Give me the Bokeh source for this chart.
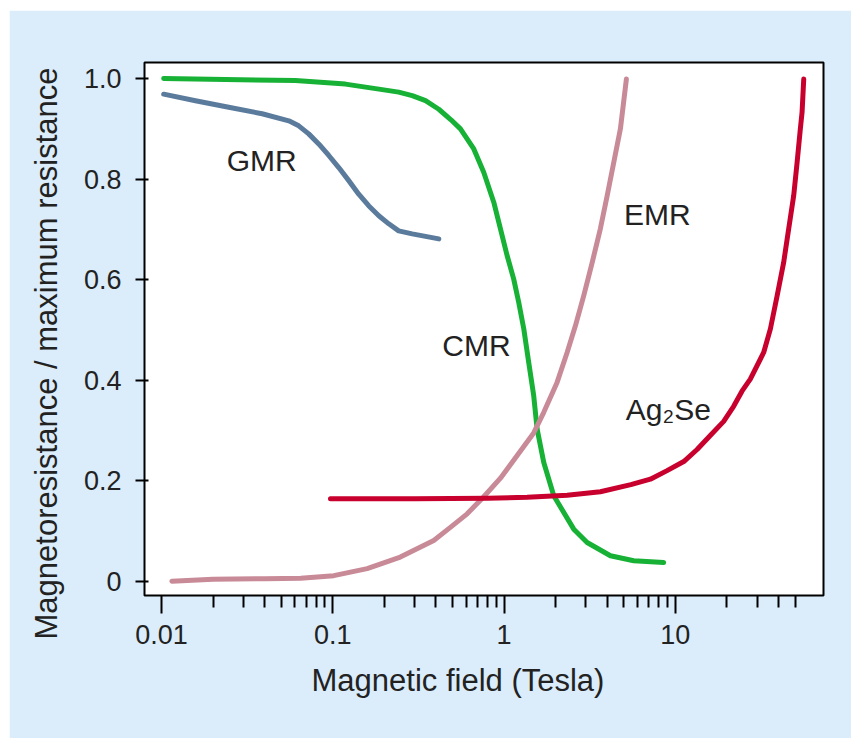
import math
from bokeh.plotting import figure
from bokeh.models import FixedTicker, Range1d, Title
from bokeh.core.properties import value
from bokeh.embed import file_html
from bokeh.resources import INLINE

# ---- data ----
gmr_x = [0.0103, 0.0158, 0.0247, 0.0387, 0.0554, 0.0633, 0.0724, 0.0828, 0.0948, 0.1084,
         0.124, 0.1418, 0.162, 0.1857, 0.2123, 0.2426, 0.291, 0.348, 0.416]
gmr_y = [0.969, 0.956, 0.943, 0.930, 0.916, 0.906, 0.890, 0.870, 0.847, 0.823,
         0.797, 0.770, 0.747, 0.727, 0.711, 0.697, 0.691, 0.686, 0.681]

cmr_x = [0.0103, 0.0605, 0.1186, 0.186, 0.2426, 0.291, 0.348, 0.416, 0.49, 0.5565, 0.666,
         0.761, 0.871, 0.953, 1.042, 1.139, 1.218, 1.304, 1.394, 1.49, 1.56, 1.706, 1.951,
         2.553, 3.055, 4.18, 5.72, 8.55]
cmr_y = [1.0, 0.996, 0.989, 0.979, 0.973, 0.966, 0.956, 0.939, 0.918, 0.900, 0.860,
         0.8135, 0.754, 0.701, 0.648, 0.601, 0.555, 0.502, 0.435, 0.369, 0.303, 0.236, 0.170,
         0.1035, 0.077, 0.0506, 0.0406, 0.037]

emr_x = [0.0115, 0.02, 0.04, 0.065, 0.1014, 0.1588, 0.248, 0.3886, 0.486, 0.609, 0.761,
         0.953, 1.193, 1.49, 1.706, 2.04, 2.335, 2.61, 2.92, 3.27, 3.65, 4.0, 4.37, 4.78, 5.18]
emr_y = [0.0, 0.004, 0.005, 0.006, 0.011, 0.025, 0.048, 0.081, 0.107, 0.134, 0.168,
         0.205, 0.250, 0.295, 0.336, 0.3955, 0.455, 0.508, 0.568, 0.634, 0.701, 0.767, 0.833, 0.900, 0.999]

ag2se_x = [0.097, 0.3, 0.8, 1.364, 2.335, 3.65, 5.5, 7.15, 8.95, 11.2, 13.4, 16.0, 19.16,
           21.9, 24.5, 27.4, 32.8, 35.9, 39.3, 42.9, 45.9, 49.1, 51.4, 53.7, 54.95, 56.2]
ag2se_y = [0.164, 0.164, 0.165, 0.167, 0.171, 0.178, 0.192, 0.203, 0.220, 0.238, 0.262, 0.290, 0.318,
           0.348, 0.378, 0.402, 0.455, 0.502, 0.568, 0.634, 0.701, 0.767, 0.833, 0.900, 0.933, 0.999]

label_text = ["GMR", "CMR", "EMR", "Ag\u2082Se"]
label_x = [0.0385, 0.690, 7.85, 9.1]
label_y = [0.837, 0.469, 0.729, 0.341]

x_major = [0.01, 0.1, 1, 10]
x_major_labels = ["0.01", "0.1", "1", "10"]
x_minor = [0.02, 0.03, 0.04, 0.05, 0.06, 0.07, 0.08, 0.09,
           0.2, 0.3, 0.4, 0.5, 0.6, 0.7, 0.8, 0.9,
           2, 3, 4, 5, 6, 7, 8, 9,
           20, 30, 40, 50]
y_major = [0, 0.2, 0.4, 0.6, 0.8, 1.0]
y_major_labels = ["0", "0.2", "0.4", "0.6", "0.8", "1.0"]

x_title = "Magnetic field (Tesla)"
y_title = "Magnetoresistance / maximum resistance"

# ---- styling ----
BG = "#DBEDFB"
FONT = "Liberation Sans"
TXT = "#222222"

p = figure(width=842, height=728, x_axis_type="log",
           x_range=Range1d(0.00796, 73.3), y_range=Range1d(-0.0285, 1.032),
           output_backend="svg", toolbar_location=None,
           min_border_left=135, min_border_right=28, min_border_top=52, min_border_bottom=143,
           margin=(10, 0, 0, 9))

p.background_fill_color = "white"
p.border_fill_color = BG
p.outline_line_color = "black"
p.outline_line_width = 2
p.grid.visible = False

p.line(gmr_x, gmr_y, line_color="#5B7B9C", line_width=5, line_cap="round", line_join="round")
p.line(cmr_x, cmr_y, line_color="#17B136", line_width=5, line_cap="round", line_join="round")
p.line(emr_x, emr_y, line_color="#C98A98", line_width=5, line_cap="round", line_join="round")
p.line(ag2se_x, ag2se_y, line_color="#C8002D", line_width=5, line_cap="round", line_join="round")

p.text(label_x, label_y, text=label_text, text_font=value(FONT), text_font_size="30px",
       text_color=TXT, text_align="center", text_baseline="middle")

xa = p.xaxis[0]
xa.ticker = FixedTicker(ticks=x_major, minor_ticks=x_minor)
xa.major_label_overrides = dict(zip(x_major, x_major_labels))
ya = p.yaxis[0]
ya.ticker = FixedTicker(ticks=y_major, minor_ticks=[])
ya.major_label_overrides = dict(zip(y_major, y_major_labels))

for ax in (xa, ya):
    ax.axis_line_color = None
    ax.major_tick_line_color = "black"
    ax.major_tick_line_width = 2
    ax.minor_tick_line_color = "black"
    ax.minor_tick_line_width = 2
    ax.major_label_text_font = FONT
    ax.major_label_text_font_size = "27px"
    ax.major_label_text_color = TXT

xa.major_tick_in = 0
xa.major_tick_out = 18
xa.minor_tick_in = 0
xa.minor_tick_out = 12
xa.major_label_standoff = 11

ya.major_tick_in = 4
ya.major_tick_out = 9
ya.minor_tick_in = 0
ya.minor_tick_out = 0
ya.major_label_standoff = 14

# axis titles as side titles, so that they can sit off-centre like the reference
p.add_layout(Title(text=x_title, align="left", offset=167, standoff=28,
                   text_font=FONT, text_font_size="31px", text_font_style="normal",
                   text_color=TXT), "below")
p.add_layout(Title(text=y_title, align="left", offset=-44, standoff=32,
                   vertical_align="middle",
                   text_font=FONT, text_font_size="31px", text_font_style="normal",
                   text_color=TXT), "left")

open("out.html", "w").write(file_html(p, INLINE))
